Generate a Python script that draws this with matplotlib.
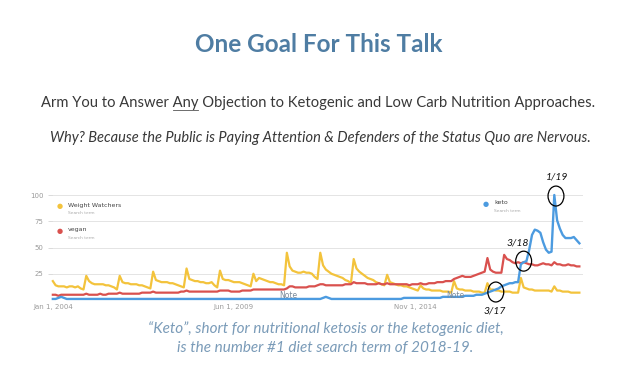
"""Slide: Google Trends for keto vs. vegan vs. Weight Watchers, 2004-2019."""

import matplotlib
matplotlib.use("Agg")
import matplotlib.pyplot as plt
from matplotlib.patches import Ellipse

W, H = 638, 388

# monthly search interest, Jan 2004 .. Oct 2019 (one row per year)
weight_watchers = [
    18, 14, 13, 13, 13, 12, 13, 13, 12, 13, 11, 10,
    23, 18, 16, 15, 15, 15, 15, 14, 14, 13, 12, 10,
    23, 17, 16, 16, 15, 15, 15, 14, 14, 13, 12, 11,
    27, 19, 18, 17, 17, 17, 16, 16, 15, 14, 13, 12,
    30, 20, 19, 18, 18, 17, 17, 16, 16, 17, 14, 12,
    28, 20, 19, 19, 18, 17, 17, 17, 16, 15, 14, 13,
    25, 18, 21, 20, 19, 18, 17, 17, 16, 15, 15, 14,
    45, 32, 28, 27, 26, 26, 27, 26, 26, 25, 22, 20,
    45, 33, 29, 27, 25, 24, 23, 22, 21, 19, 18, 16,
    39, 30, 27, 25, 23, 21, 20, 19, 17, 16, 15, 14,
    24, 17, 16, 15, 14, 14, 13, 13, 12, 11, 10, 9,
    14, 11, 10, 10, 9, 9, 9, 9, 8, 8, 8, 7,
    18, 11, 10, 10, 9, 9, 9, 8, 8, 8, 7, 7,
    16, 10, 10, 9, 9, 8, 8, 8, 8, 7, 7, 7,
    21, 12, 11, 10, 10, 9, 9, 9, 9, 9, 9, 8,
    13, 9, 9, 8, 8, 8, 7, 7, 7, 7,
]
vegan = [
    5, 5, 4, 5, 5, 5, 5, 5, 5, 5, 5, 5,
    6, 5, 5, 5, 5, 6, 5, 5, 6, 6, 6, 6,
    7, 6, 6, 6, 6, 6, 6, 6, 7, 7, 7, 7,
    8, 7, 7, 7, 7, 7, 7, 7, 7, 7, 8, 8,
    9, 8, 8, 8, 8, 8, 8, 8, 8, 8, 8, 8,
    9, 9, 9, 9, 8, 8, 8, 8, 9, 9, 9, 9,
    10, 10, 10, 10, 10, 10, 10, 10, 10, 10, 10, 10,
    11, 13, 13, 12, 12, 12, 12, 12, 13, 13, 13, 14,
    15, 15, 14, 14, 14, 14, 14, 14, 14, 15, 15, 15,
    17, 16, 16, 16, 16, 15, 15, 15, 15, 16, 15, 15,
    16, 15, 15, 15, 15, 15, 15, 15, 14, 15, 15, 15,
    16, 15, 15, 16, 16, 16, 17, 17, 17, 18, 18, 18,
    20, 21, 22, 23, 22, 22, 22, 23, 24, 25, 26, 27,
    40, 29, 27, 26, 26, 26, 43, 39, 38, 36, 35, 36,
    35, 36, 35, 34, 34, 33, 33, 34, 35, 34, 34, 33,
    36, 34, 34, 33, 33, 34, 33, 33, 32, 32,
]
keto = [
    1, 1, 2, 3, 2, 1, 1, 1, 1, 1, 1, 1,
    1, 1, 1, 1, 1, 1, 1, 1, 1, 1, 1, 1,
    1, 1, 1, 1, 1, 1, 1, 1, 1, 1, 1, 1,
    1, 1, 1, 1, 1, 1, 1, 1, 1, 1, 1, 1,
    1, 1, 1, 1, 1, 1, 1, 1, 1, 1, 1, 1,
    1, 1, 1, 1, 1, 1, 1, 1, 1, 1, 1, 1,
    1, 1, 1, 1, 1, 1, 1, 1, 1, 1, 1, 1,
    1, 1, 1, 1, 1, 1, 1, 1, 1, 1, 1, 1,
    1, 2, 3, 2, 1, 1, 1, 1, 1, 1, 1, 1,
    1, 1, 1, 1, 1, 1, 1, 1, 1, 1, 1, 1,
    1, 1, 1, 1, 1, 1, 2, 2, 2, 2, 2, 2,
    2, 2, 2, 2, 2, 2, 2, 2, 3, 3, 3, 3,
    3, 3, 3, 3, 4, 4, 4, 4, 5, 5, 5, 6,
    7, 8, 9, 10, 11, 13, 14, 15, 16, 16, 17, 17,
    34, 36, 37, 48, 62, 67, 66, 64, 55, 48, 45, 46,
    100, 76, 68, 62, 59, 59, 59, 60, 57, 54,
]
y_ticks = [25, 50, 75, 100]
x_tick_pos = [0, 65, 130]
x_tick_labels = ["Jan 1, 2004", "Jun 1, 2009", "Nov 1, 2014"]
# circled months: (month index, value, label)
callouts = [(180.6, 99, "1/19"), (169, 37, "3/18"), (159, 7.6, "3/17")]

YELLOW = "#f3c33c"
RED = "#d9514e"
BLUE = "#4c9be0"
TITLE_BLUE = "#4f7da3"
CAPTION_BLUE = "#7a9bb8"
FONT = "Lato"


def px(x, y):
    return x / W, 1 - y / H


fig = plt.figure(figsize=(W / 100, H / 100), dpi=100)
fig.patch.set_facecolor("white")

# slide text
fig.text(*px(319, 44), "One Goal For This Talk", ha="center", va="center",
         fontsize=17.5, fontweight="bold", color=TITLE_BLUE, family=FONT)
line1 = "Arm You to Answer Any Objection to Ketogenic and Low Carb Nutrition Approaches."
t1 = fig.text(*px(318, 103), line1, ha="center", va="center",
              fontsize=10.6, color="#383838", family=FONT)
fig.text(*px(320, 138),
         "Why? Because the Public is Paying Attention & Defenders of the Status Quo are Nervous.",
         ha="center", va="center", fontsize=10.5, style="italic",
         color="#383838", family=FONT)
fig.text(*px(326, 329), "\u201cKeto\u201d, short for nutritional ketosis or the ketogenic diet,",
         ha="center", va="center", fontsize=11, style="italic",
         color=CAPTION_BLUE, family=FONT)
fig.text(*px(325, 348), "is the number #1 diet search term of 2018-19.",
         ha="center", va="center", fontsize=11, style="italic",
         color=CAPTION_BLUE, family=FONT)

# underline "Any"
renderer = fig.canvas.get_renderer()
full = t1.get_window_extent(renderer)
probe = fig.text(0, 0, "Arm You to Answer Any", fontsize=10.6, family=FONT)
end = full.x0 + probe.get_window_extent(renderer).width
probe.set_text("Any")
start = end - probe.get_window_extent(renderer).width
probe.remove()
uy = 1 - 109.5 / H
fig.add_artist(plt.Line2D([start / W, end / W], [uy, uy], color="#555555", lw=0.6))

# trends chart
ax = fig.add_axes([52 / W, 1 - 300 / H, 531 / W, 105 / H])
months = list(range(len(keto)))
ax.plot(months, weight_watchers, color=YELLOW, lw=1.6, clip_on=False, zorder=3)
ax.plot(months, vegan, color=RED, lw=1.6, clip_on=False, zorder=3)
ax.plot(months, keto, color=BLUE, lw=1.7, clip_on=False, zorder=4)
ax.set_xlim(-0.3, 190.3)
ax.set_ylim(0, 100)
for v in [0] + y_ticks:
    ax.axhline(v, color="#e4e4e4", lw=0.7, zorder=1)
for s in ax.spines.values():
    s.set_visible(False)
ax.set_yticks(y_ticks)
ax.set_yticklabels([str(v) for v in y_ticks])
ax.set_xticks(x_tick_pos)
ax.set_xticklabels(x_tick_labels)
ax.tick_params(axis="y", length=3, width=0.5, color="#cccccc", pad=3,
               labelsize=5, labelcolor="#9a9a9a")
ax.tick_params(axis="x", length=0, pad=3, labelsize=5, labelcolor="#9a9a9a")

for m, txt in [(84.6, "Note"), (144.5, "Note")]:
    ax.text(m, 4.5, txt, ha="center", va="center", fontsize=5.5,
            color="#7a8a9a", zorder=5)

# in-chart legend
for (x, y, c, name) in [(60, 206, YELLOW, "Weight Watchers"), (60, 231, RED, "vegan"),
                        (486, 204, BLUE, "keto")]:
    fig.text(*px(x, y), "\u25cf", ha="center", va="center", fontsize=5, color=c)
    fig.text(*px(x + 8, y - 1), name, ha="left", va="center", fontsize=4.5,
             color="#444444")
    fig.text(*px(x + 8, y + 7), "Search term", ha="left", va="center",
             fontsize=3.2, color="#aaaaaa")

# circled dates
for m, v, label in callouts:
    ax.add_patch(Ellipse((m, v), 5.7, 19, fill=False, ec="black", lw=0.9,
                         clip_on=False, zorder=6))
label_pos = {"1/19": (557, 177), "3/18": (518, 243), "3/17": (495, 311)}
for label, (x, y) in label_pos.items():
    fig.text(*px(x, y), label, ha="center", va="center", fontsize=7.5,
             style="italic", color="#111111", family=FONT)

fig.savefig("out.png", dpi=100)
